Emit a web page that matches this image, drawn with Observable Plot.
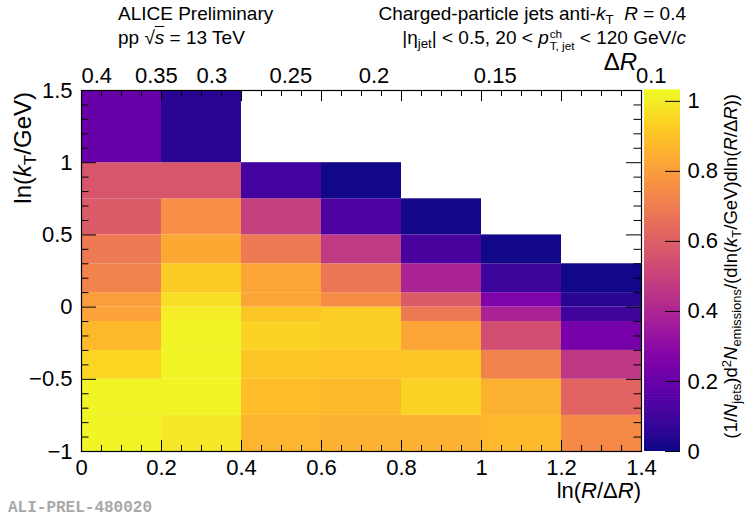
<!DOCTYPE html>
<html><head><meta charset="utf-8">
<script src="https://cdn.jsdelivr.net/npm/d3@7"></script>
<script src="https://cdn.jsdelivr.net/npm/@observablehq/plot@0.6"></script>
<style>
body{margin:0;background:#fff;}
#wrap{position:relative;width:745px;height:519px;overflow:hidden;font-family:"Liberation Sans",Arial,Helvetica,sans-serif;color:#000;background:#fff;}
#wrap svg{position:absolute;top:0;}
.t{position:absolute;white-space:nowrap;line-height:1;}
.t sub{font-size:0.7em;vertical-align:-0.3em;line-height:0;}
.t sup{font-size:0.7em;vertical-align:0.45em;line-height:0;}
.rot{transform-origin:0 0;transform:rotate(-90deg) translateX(-100%);}
.ss{display:inline-block;font-size:0.62em;line-height:1;vertical-align:-0.45em;text-align:left;margin-left:1px;}
.ss span{display:block;}
.code{font-family:"Liberation Mono","DejaVu Sans Mono",monospace;font-weight:bold;color:#a8a8a8;}
</style></head>
<body><div id="wrap"></div>
<script>
// ---- data ----
const R = 0.4;
const xEdges = [0, 0.2, 0.4, 0.6, 0.8, 1.0, 1.2, 1.4];                 // ln(R/ΔR) bin edges
const yEdges = [-1, -0.75, -0.5, -0.3, -0.1, 0, 0.1, 0.3, 0.5, 0.75, 1, 1.5]; // ln(kT/GeV) bin edges
// values per x-column, from bottom row to top row (null = empty)
const col0 = [1.02, 1.02, 0.95, 0.87, 0.81, 0.80, 0.72, 0.69, 0.59, 0.57, 0.20];
const col1 = [0.99, 1.02, 1.02, 1.02, 1.00, 0.97, 0.92, 0.83, 0.76, 0.57, 0.05];
const col2 = [0.86, 0.89, 0.91, 0.94, 0.91, 0.82, 0.82, 0.69, 0.49, 0.11, null];
const col3 = [0.85, 0.87, 0.90, 0.93, 0.93, 0.75, 0.68, 0.47, 0.13, 0.01, null];
const col4 = [0.85, 0.94, 0.91, 0.82, 0.69, 0.59, 0.39, 0.12, 0.01, null, null];
const col5 = [0.87, 0.85, 0.72, 0.54, 0.39, 0.26, 0.09, 0.01, null, null, null];
const col6 = [0.74, 0.62, 0.46, 0.24, 0.10, 0.05, 0.01, null, null, null, null];
const columns = [col0, col1, col2, col3, col4, col5, col6];
const zMax = 1.031;

const xTicks = [0, 0.2, 0.4, 0.6, 0.8, 1, 1.2, 1.4];
const yTicks = [-1, -0.5, 0, 0.5, 1, 1.5];
const dRTicks = [0.4, 0.35, 0.3, 0.25, 0.2, 0.15, 0.1];
const zTicks = [0, 0.2, 0.4, 0.6, 0.8, 1];

// ---- derived ----
const cells = [];
columns.forEach((col, c) => col.forEach((v, r) => {
  if (v != null) cells.push({x1: xEdges[c], x2: xEdges[c + 1], y1: yEdges[r], y2: yEdges[r + 1], v});
}));
const xMinor = d3.range(0, 28).map(i => i * 0.05).filter(d => Math.abs(d / 0.2 - Math.round(d / 0.2)) > 1e-6);
const yMinor = d3.range(0, 26).map(i => -1 + i * 0.1).filter(d => Math.abs(d / 0.5 - Math.round(d / 0.5)) > 1e-6);
const fmt = d => (d < 0 ? "\u2212" : "") + String(Math.abs(+d.toFixed(2)));

const W = 745, H = 519, mL = 81, mR = 104, mT = 90, mB = 68;
const pw = W - mL - mR, ph = H - mT - mB;
const font = "'Liberation Sans', Arial, Helvetica, sans-serif";
const colorOpt = {type: "linear", scheme: "plasma", domain: [0, zMax]};

const main = Plot.plot({
  width: W, height: H, marginLeft: mL, marginRight: mR, marginTop: mT, marginBottom: mB,
  x: {domain: [0, 1.4], label: null},
  y: {domain: [-1, 1.5], label: null},
  color: colorOpt,
  style: {fontFamily: font, fontSize: "22px", background: "white", color: "black"},
  marks: [
    Plot.rect(cells, {x1: "x1", x2: "x2", y1: "y1", y2: "y2", fill: "v"}),
    Plot.frame({stroke: "black", strokeWidth: 1.2}),
    // bottom & top ticks
    Plot.tickX(xTicks, {x: d => d, insetTop: ph - 11, stroke: "black"}),
    Plot.tickX(xMinor, {x: d => d, insetTop: ph - 6, stroke: "black"}),
    Plot.tickX(xTicks, {x: d => d, insetBottom: ph - 11, stroke: "black"}),
    Plot.tickX(xMinor, {x: d => d, insetBottom: ph - 6, stroke: "black"}),
    // left & right ticks
    Plot.tickY(yTicks, {y: d => d, insetRight: pw - 15, stroke: "black"}),
    Plot.tickY(yMinor, {y: d => d, insetRight: pw - 7.5, stroke: "black"}),
    Plot.tickY(yTicks, {y: d => d, insetLeft: pw - 15, stroke: "black"}),
    Plot.tickY(yMinor, {y: d => d, insetLeft: pw - 7.5, stroke: "black"}),
    Plot.axisX(xTicks, {anchor: "bottom", tickSize: 0, tickPadding: 8, tickFormat: fmt, label: null}),
    Plot.axisY(yTicks, {anchor: "left", tickSize: 0, tickPadding: 9, tickFormat: fmt, label: null}),
    Plot.text(dRTicks, {x: d => Math.log(R / d), text: d => String(d), frameAnchor: "top",
      textAnchor: "start", lineAnchor: "bottom", dy: -8, fontSize: 22})
  ]
});
main.style.left = "0px";

const gradN = 240;
const grad = d3.range(gradN).map(i => ({y1: i * zMax / gradN, y2: (i + 1) * zMax / gradN + 0.002, v: (i + 0.5) * zMax / gradN}));
const cbW = W - 641, cbL = 3, cbPlotW = 36;
const cbar = Plot.plot({
  width: cbW, height: H, marginLeft: cbL, marginRight: cbW - cbL - cbPlotW, marginTop: mT, marginBottom: mB,
  x: {domain: [0, 1], axis: null},
  y: {domain: [0, zMax], label: null},
  color: colorOpt,
  style: {fontFamily: font, fontSize: "22px", background: "transparent", color: "black"},
  marks: [
    Plot.rect(grad, {x1: 0, x2: 1, y1: "y1", y2: "y2", fill: "v"}),
    Plot.tickY(zTicks, {y: d => d, insetLeft: cbPlotW - 15, stroke: "black"}),
    Plot.axisY(zTicks, {anchor: "right", tickSize: 0, tickPadding: 7, tickFormat: d => String(d), label: null})
  ]
});
cbar.style.left = "641px";

const wrap = document.getElementById("wrap");
wrap.appendChild(main);
wrap.appendChild(cbar);
wrap.insertAdjacentHTML("beforeend", `
<div class="t" style="left:118px;top:4px;font-size:19px">ALICE Preliminary</div>
<div class="t" style="left:118px;top:28px;font-size:19px">pp &radic;<span style="text-decoration:overline"><i>s</i></span> = 13 TeV</div>
<div class="t" style="right:59px;top:4px;font-size:19px">Charged-particle jets anti-<i>k</i><sub>T</sub>&nbsp; <i>R</i> = 0.4</div>
<div class="t" style="right:59px;top:28px;font-size:19px">|&eta;<sub>jet</sub>| &lt; 0.5, 20 &lt; <i>p</i><span class="ss"><span>ch</span><span>T, jet</span></span> &lt; 120 GeV/<i>c</i></div>
<div class="t" style="right:108px;top:50px;font-size:24px">&Delta;<i>R</i></div>
<div class="t" style="right:104px;top:480px;font-size:22px">ln(<i>R</i>/&Delta;<i>R</i>)</div>
<div class="t rot" style="left:11px;top:92px;font-size:24px">ln(<i>k</i><sub>T</sub>/GeV)</div>
<div class="t rot" style="left:722px;top:94px;font-size:18.5px">(1/<i>N</i><sub>jets</sub>)d<sup>2</sup><i>N</i><sub>emissions</sub>/(dln(<i>k</i><sub>T</sub>/GeV)dln(<i>R</i>/&Delta;<i>R</i>))</div>
<div class="t code" style="left:8px;top:500px;font-size:16px">ALI-PREL-480020</div>
`);
</script>
</body></html>
